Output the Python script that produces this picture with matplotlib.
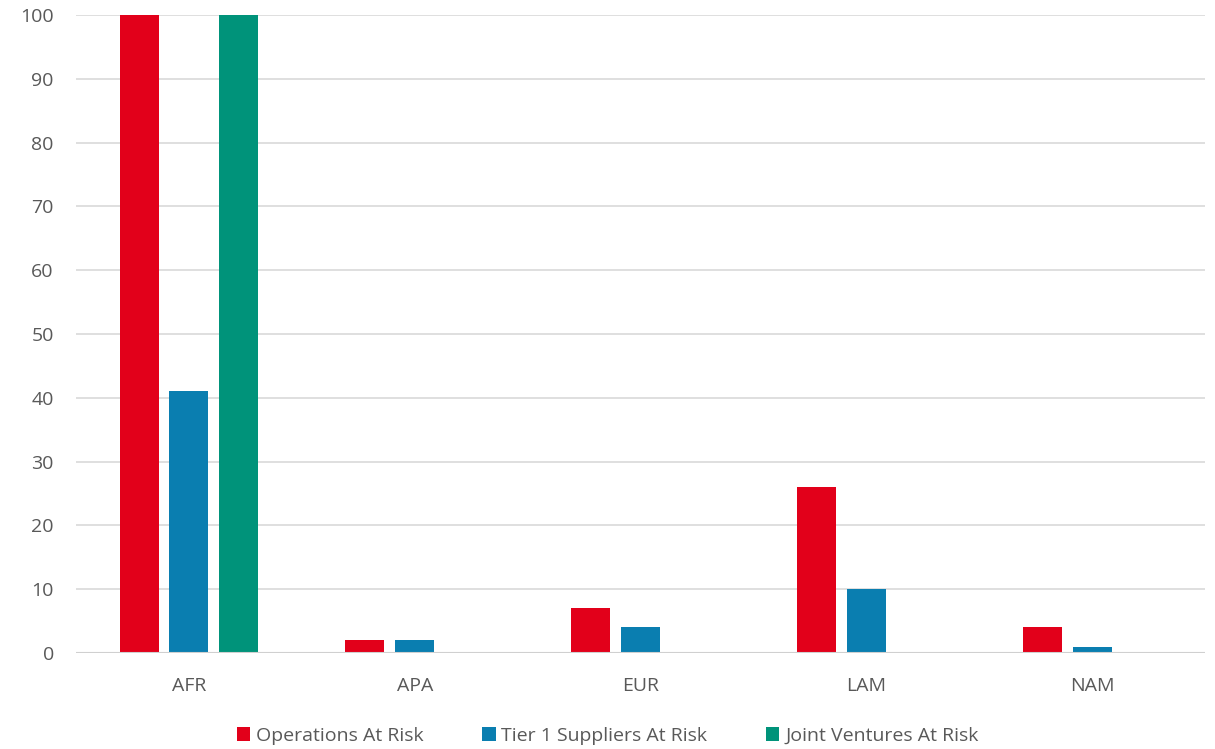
import matplotlib.pyplot as plt
import numpy as np

categories = ['AFR', 'APA', 'EUR', 'LAM', 'NAM']
operations = [100, 2, 7, 26, 4]
suppliers = [41, 2, 4, 10, 1]
joint_ventures = [100, 0, 0, 0, 0]
series_names = ['Operations At Risk', 'Tier 1 Suppliers At Risk', 'Joint Ventures At Risk']
colors = ['#E2001A', '#0A7EB0', '#00937A']

plt.rcParams['font.family'] = ['Open Sans', 'DejaVu Sans']
text_col = '#595959'

fig = plt.figure(figsize=(12.15, 7.49), dpi=100)
ax = fig.add_axes([0.0626, 0.1282, 0.9292, 0.8518])

x = np.arange(len(categories))
w = 0.173
offs = [-0.221, 0, 0.221]
for vals, off, c, name in zip([operations, suppliers, joint_ventures], offs, colors, series_names):
    ax.bar(x + off, vals, width=w, color=c, label=name, zorder=3)

ax.set_xlim(-0.5, len(categories) - 0.5)
ax.set_ylim(0, 100)
ax.set_yticks(range(0, 101, 10))
ax.set_xticks(x)
ax.set_xticklabels(categories)
ax.grid(axis='y', color='#D9D9D9', linewidth=1.2, zorder=0)
ax.axhline(0, color='#D0D0D0', linewidth=1.5, zorder=4)
for s in ax.spines.values():
    s.set_visible(False)
ax.tick_params(axis='both', length=0, labelsize=14, colors=text_col)
ax.tick_params(axis='x', pad=17)
ax.tick_params(axis='y', pad=16)

leg = fig.legend(loc='lower center', bbox_to_anchor=(0.5, -0.018), ncol=3, frameon=False,
                 fontsize=14, handlelength=0.7, handleheight=0.7, handletextpad=0.3,
                 columnspacing=3.0)
for t in leg.get_texts():
    t.set_color(text_col)

fig.savefig('out.png', dpi=100)
